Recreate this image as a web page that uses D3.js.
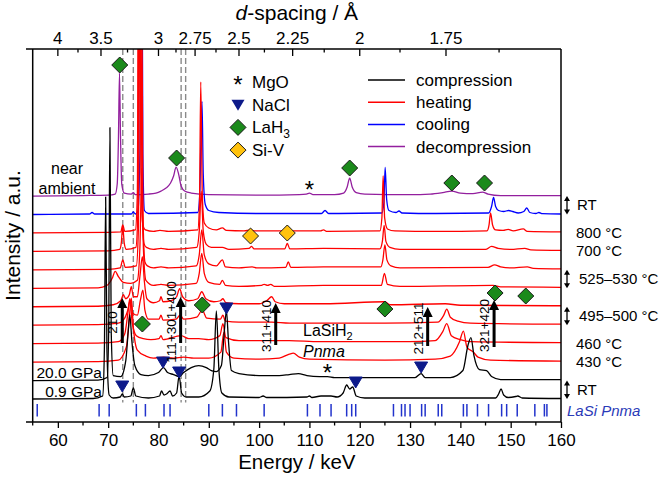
<!DOCTYPE html>
<html><head><meta charset="utf-8">
<script src="https://cdn.jsdelivr.net/npm/d3@7"></script>
<style>body{margin:0;background:#fff} text{font-family:"Liberation Sans",Arial,sans-serif}</style>
</head><body><svg id="c" width="661" height="477"></svg>
<script>
// ---------- data ----------
const energyTicks=[60,70,80,90,100,110,120,130,140,150,160];
const energyMinor=[55,65,75,85,95,105,115,125,135,145,155];
const dTicks=[4,3.5,3,2.75,2.5,2.25,2,1.75];
const dMinor=[3.75,3.25,2.875,2.625,2.375,2.125,1.875,1.625];
const eTimesD=240.0; // keV·Å
const offsetStep=18.45;
const dashedE=[72.9,75.0,84.5,85.4];
const lasiTicks=[55.9,68.2,70.2,75.6,77.4,81.1,82.3,90.0,92.7,95.5,101.0,109.6,112.1,114.3,117.4,118.4,119.2,126.7,128.3,129.0,130.0,132.3,133.0,135.6,136.3,140.6,141.3,143.4,145.6,148.2,149.2,151.3,154.8,156.7,157.2];

const decompression=[[55,0],[65,0.5],[70,1],[71.4,2],[71.8,12],[72.05,60],[72.25,123],[72.45,60],[72.7,12],[73.2,3],[74.6,2],[75,3.5],[75.4,1.5],[78,2],[79.5,3],[80.5,5],[81.5,8],[82.4,13],[83,20],[83.5,29],[84,22],[84.5,10],[85.2,5],[86.5,3],[90,1.5],[100,1],[108,1.5],[109.4,2],[110,3],[110.7,1.5],[115,1.5],[116.8,3],[117.5,9],[118,18],[118.5,9],[119.3,3.5],[121,2],[130,1.5],[134,2],[136.5,3.5],[138.3,5],[140,3],[142.5,2.5],[144.4,4],[145.5,2],[148,0.5],[160,0.5]];
const cooling=[[55,0],[66.3,0.5],[66.8,2],[67.3,0.5],[74.6,0.5],[75,2.5],[75.4,0.5],[75.9,3],[76.3,60],[76.6,420],[76.9,60],[77.2,4],[78,1],[87.8,2],[88.2,20],[88.45,80],[88.65,113],[88.9,40],[89.3,10],[90,4],[92,2],[100,1],[112.4,1],[113.1,4],[113.8,1],[124.4,1.5],[124.8,12],[125.05,47],[125.35,15],[125.8,4],[127.2,2],[127.8,3.5],[128.4,1.5],[135,1],[145.6,1.5],[146.2,8],[146.6,17],[147,8],[147.6,4],[148.6,3],[149.6,4],[150.4,3],[151.5,1.5],[152.6,3],[153.2,6.5],[153.8,2],[155,1],[155.6,2],[156.3,0.8],[160,0.5]];
const heat800=[[55,0],[70,0.5],[72.5,1],[72.9,8],[73.3,1.5],[75.4,3],[75.8,40],[76.1,500],[76.5,60],[76.9,8],[77.4,3],[79,1.5],[80.3,2.5],[82,1.5],[87.8,3],[88.15,30],[88.4,151],[88.7,40],[89.1,10],[90,5],[91.5,3],[92.7,5],[93.5,2.5],[97,2],[98.3,3],[99,2],[105,2],[105.6,4],[106.2,2],[112.2,2],[112.8,3],[113.5,1.5],[124,2],[124.4,15],[124.65,57],[124.95,15],[125.5,4],[127,2],[135,1.5],[145.3,2],[145.7,8],[146,20],[146.4,8],[147,3],[148.5,2.5],[149.5,3.5],[150.5,2],[152.5,4],[153.3,1.5],[160,1]];
const heat700=[[55,0],[70,0.5],[72.3,2],[72.6,8],[72.9,25],[73.2,8],[73.6,2],[75.5,4],[75.9,40],[76.3,500],[76.7,60],[77.1,8],[77.6,4],[79,2],[80.5,3],[82,2],[87.6,4],[88.1,20],[88.5,60],[88.9,20],[89.5,7],[90.5,4],[92.7,4],[94,2],[98,3],[98.5,5],[99,2.5],[105.1,2.5],[105.6,8],[106.1,2.5],[112.8,3],[124,2.5],[124.5,10],[124.85,26],[125.2,10],[126,4],[128,2],[145,2],[146.2,5],[147.5,3],[150,2],[152.8,3],[154,1.5],[160,1]];
const heat530=[[55,0],[70,0.5],[72.4,2],[72.9,10],[73.4,2.5],[75.6,4],[76.0,40],[76.5,500],[76.9,60],[77.3,8],[77.8,4],[79,2],[80.5,3],[82,2],[87.5,4],[88.1,15],[88.6,40],[89.1,15],[90,6],[91.5,4],[92.7,10],[93.3,3],[96,2],[98.6,3],[99.5,2],[105.3,2.5],[105.8,8],[106.3,2.5],[112.8,3],[124.2,3],[124.6,10],[125,25],[125.4,10],[126.2,4],[128,2],[145.5,2.5],[146.8,5],[148,3],[150,2],[153.3,3],[154.5,1.5],[160,1]];
const heat525=[[55,0],[68,0.5],[69.8,3],[70.8,10],[71.4,17],[72,12],[73,6],[74.5,5],[75.8,8],[76.3,40],[76.7,120],[77.0,40],[77.5,8],[79,3],[80.5,4],[82,3],[87.5,5],[88.1,15],[88.6,35],[89.1,15],[90,6],[92.2,4],[92.7,8],[93.3,3],[96,2],[100.5,3],[101,4],[101.7,3],[102.3,4],[103,2],[112.8,3],[124.3,3],[124.9,15],[125.5,4],[128,2],[146.5,3],[148,1.5],[160,1]];
const heat500=[[55,0],[68,0.5],[71,2],[72.5,6],[73,12],[73.5,8],[74.2,12],[74.6,20],[75,10],[75.8,10],[76.3,30],[76.8,50],[77.2,25],[77.7,8],[79,4],[80.2,6],[80.5,10],[80.9,5],[82.5,6],[83.6,10],[84.2,18],[84.8,10],[86,6],[87.8,8],[88.6,15],[89.4,8],[91,5],[92.3,6],[92.8,8],[93.4,4],[96,3],[100,3],[101.5,6],[102.5,10],[103.2,5],[105,3],[113,3],[125,5],[126,2],[137,3],[140,1.5],[160,1]];
const heat495=[[55,0],[68,0.5],[72,2],[73,5],[73.9,15],[74.4,25],[74.9,12],[75.8,10],[76.4,25],[76.9,35],[77.3,15],[78,6],[80.1,6],[80.5,10],[80.9,5],[83.5,6],[84.3,10],[85,6],[87.6,8],[88.7,15],[89.6,7],[92.3,6],[92.8,10],[93.3,4],[96,3],[102.5,3],[106,2],[112,2],[125,2],[135.5,3],[136.7,10],[137.3,16],[138,8],[139.5,4],[142,2],[160,1]];
const heat460=[[55,0],[68,0.5],[72,2],[73.3,10],[73.9,30],[74.3,45],[74.8,20],[75.6,8],[77,5],[78.5,4],[80.1,5],[80.5,8],[80.9,4],[84.5,8],[86,5],[88,5],[90,4],[92.2,8],[92.8,20],[93.4,6],[96,3],[106,3],[112,2],[130,2],[135,3],[136.5,12],[137.3,20],[138.2,8],[140,4],[142,2],[160,1]];
const heat430=[[55,0],[68,0.5],[72,2],[73.6,15],[74.3,50],[74.6,64],[75,35],[75.8,12],[77.5,6],[79,4],[81,5],[83,4],[85,5],[87,4],[90,4],[92.4,10],[93,30],[93.5,10],[95,4],[100,3],[104,4],[106,8],[106.8,9],[108,5],[110,3],[125,2],[135,3],[138,6],[139.8,20],[140.6,31],[141.3,15],[142.6,10],[143.5,5],[146,2],[160,1]];
const comp20=[[55,0],[68,0.5],[69.8,3],[70.1,50],[70.35,253],[70.6,50],[71,5],[72.5,4],[73.5,20],[74.0,50],[74.3,66],[74.7,40],[75.3,15],[76.5,6],[78,5],[80,8],[81,13],[81.8,8],[83,6],[84.1,4],[85,8],[86.5,13],[88,15],[89.5,13],[90.5,10],[91.5,9],[92.5,15],[93.1,50],[93.5,70],[93.9,40],[94.5,10],[96,7],[100,5],[104,5],[106,6],[107.8,7],[109.5,5],[112,4],[113.6,4],[115,3],[120,3],[125,3],[131,3],[132.2,7],[133,3],[138,3],[140.5,10],[141.5,35],[142.1,43],[142.7,25],[143.8,11],[145.2,10],[146.2,4],[148,1],[160,1]];
const comp09=[[55,0],[67,0.5],[68.9,3],[69.25,50],[69.5,202],[69.75,50],[70.2,4],[71,1],[72.4,2],[72.8,5],[73.2,2],[74.5,3],[75,11],[75.5,3],[78,1],[80.2,3],[80.6,8],[81.1,4],[81.6,5],[82.3,8],[82.8,3],[83.6,6],[84.1,23],[84.6,6],[85.5,2],[88,2],[90.2,8],[91,30],[91.5,88],[92,30],[92.6,6],[94,2],[100,1.5],[100.8,3],[101.5,1.5],[109.5,2],[110,3],[110.5,1.5],[112.3,3],[114.3,3],[115.5,2],[116.7,6],[117.4,14],[118,10],[118.6,12],[119.3,3],[121,1],[147,1],[147.6,5],[148.1,10],[148.6,4],[149.5,1.5],[151,2.5],[151.4,3],[152.3,1],[160,0.5]];

// traces listed top to bottom: [name, data, kind]
const traces=[
 ["decompression",decompression,"decompression"],
 ["cooling",cooling,"cooling"],
 ["800",heat800,"heating"],["700",heat700,"heating"],["530",heat530,"heating"],["525",heat525,"heating"],
 ["500",heat500,"heating"],["495",heat495,"heating"],["460",heat460,"heating"],["430",heat430,"heating"],
 ["20.0 GPa",comp20,"compression"],["0.9 GPa",comp09,"compression"]];

// markers: [energy, intensity on stacked scale]
const mgoMarks=[[110.0,212],[113.6,29]];
const naclMarks=[[72.8,13],[80.9,37],[84.1,27],[93.5,91],[119.2,17],[132.2,32]];
const lah3Marks=[[72.3,334],[83.6,241],[118.0,231],[138.3,216],[144.8,216],[76.8,75],[88.7,94],[125.0,90],[146.9,106],[153.0,103]];
const sivMarks=[[98.3,163],[105.6,166]];
// arrows: [energy, bottom, top, label]
const hklArrows=[[72.8,56,101,"210"],[84.4,56,102,"111+301+400"],[103.3,54,96,"311+410"],[133.5,53,92,"212+511"],[146.7,52,99,"321+420"]];
const legendSymbols=["MgO","NaCl","LaH3","Si-V"];
const legendLines=["compression","heating","cooling","decompression"];
const rightLabels=[["RT",0,1,true],["800 °C",2,2,false],["700 °C",3,3,false],["525–530 °C",4,5,true],["495–500 °C",6,7,true],["460 °C",8,8,false],["430 °C",9,9,false],["RT",10,11,true]];

// ---------- drawing ----------
const colors={compression:"#000000",heating:"#ff0000",cooling:"#0000ff",decompression:"#931f9e"};
const svg=d3.select("#c");
const L=32.7,R=561,T=49,B=422;
const x=d3.scaleLinear().domain([55,160]).range([L,R]);
const y=d3.scaleLinear().domain([-23,350]).range([B,T]);
const off=i=>(traces.length-1-i)*offsetStep;

svg.append("defs").append("clipPath").attr("id","clip").append("rect").attr("x",L).attr("y",T).attr("width",R-L).attr("height",B-T);

// dashed lines
svg.append("g").selectAll("line").data(dashedE).join("line")
 .attr("x1",d=>x(d)).attr("x2",d=>x(d)).attr("y1",T).attr("y2",y(-3.5))
 .attr("stroke","#8a8a8a").attr("stroke-width",1.4).attr("stroke-dasharray","6,3");

// LaSi ticks
svg.append("g").selectAll("line").data(lasiTicks).join("line")
 .attr("x1",d=>x(d)).attr("x2",d=>x(d)).attr("y1",y(-5)).attr("y2",y(-17.5))
 .attr("stroke","#2233cc").attr("stroke-width",1.5);

// traces
const line=d3.line().x(d=>x(d[0])).curve(d3.curveMonotoneX);
const gT=svg.append("g").attr("clip-path","url(#clip)");
const drawOrder=[0,1,2,3,4,5,6,7,8,9,10,11];
drawOrder.forEach(i=>{
  const [nm,data,kind]=traces[i];
  gT.append("path").datum(data)
   .attr("d",line.y(d=>y(d[1]+off(i))))
   .attr("fill","none").attr("stroke",colors[kind]).attr("stroke-width",1.3).attr("stroke-linejoin","round");
});

// frame
svg.append("line").attr("x1",L).attr("x2",L).attr("y1",T).attr("y2",B).attr("stroke","#000").attr("stroke-width",1.5);
svg.append("line").attr("x1",R).attr("x2",R).attr("y1",T).attr("y2",B).attr("stroke","#000").attr("stroke-width",1.5);

// bottom axis
const xAxis=d3.axisBottom(x).tickValues(energyTicks).tickSize(6).tickFormat(d3.format("d"));
const gB=svg.append("g").attr("transform",`translate(0,${B})`).call(xAxis);
gB.select(".domain").remove();
gB.append("g").selectAll("line").data(energyMinor).join("line").attr("x1",d=>x(d)).attr("x2",d=>x(d)).attr("y1",0).attr("y2",3.5).attr("stroke","#000").attr("stroke-width",1.3);
gB.append("line").attr("x1",26).attr("x2",R).attr("y1",0).attr("y2",0).attr("stroke","#000").attr("stroke-width",1.5);
gB.selectAll(".tick line").attr("stroke-width",1.3);
gB.selectAll(".tick text").attr("font-size",17).attr("fill","#000").attr("y",24).attr("dy",0).attr("font-family","Liberation Sans, Arial, sans-serif");

// top axis (d-spacing)
const xd=d=>x(eTimesD/d);
const gTop=svg.append("g").attr("transform",`translate(0,${T})`);
gTop.append("line").attr("x1",26).attr("x2",R).attr("y1",0).attr("y2",0).attr("stroke","#000").attr("stroke-width",1.5);
gTop.selectAll(".maj").data(dTicks).join("line").attr("x1",xd).attr("x2",xd).attr("y1",0).attr("y2",7).attr("stroke","#000").attr("stroke-width",1.3);
gTop.selectAll(".min").data(dMinor).join("line").attr("x1",xd).attr("x2",xd).attr("y1",0).attr("y2",3.5).attr("stroke","#000").attr("stroke-width",1.3);
gTop.selectAll("text").data(dTicks).join("text").attr("x",xd).attr("y",-5).attr("text-anchor","middle").attr("font-size",17).text(d=>d);

// axis titles
const tt=svg.append("text").attr("x",(L+R)/2).attr("y",20).attr("text-anchor","middle").attr("font-size",21);
tt.append("tspan").attr("font-style","italic").text("d");
tt.append("tspan").text("-spacing / Å");
svg.append("text").attr("x",(L+R)/2).attr("y",469).attr("text-anchor","middle").attr("font-size",20.5).text("Energy / keV");
svg.append("text").attr("transform",`translate(20,${(T+B)/2}) rotate(-90)`).attr("text-anchor","middle").attr("font-size",21).text("Intensity / a.u.");

// markers
const diamond=r=>`M0,${-r}L${r},0L0,${r}L${-r},0Z`;
const tri="M-6.5,-5L6.5,-5L0,6Z";
const gM=svg.append("g");
gM.selectAll(".d").data(lah3Marks).join("path").attr("d",diamond(8)).attr("transform",d=>`translate(${x(d[0])},${y(d[1])})`).attr("fill","#1b8a1b").attr("stroke","#1a1a1a").attr("stroke-width",1);
gM.selectAll(".s").data(sivMarks).join("path").attr("d",diamond(8)).attr("transform",d=>`translate(${x(d[0])},${y(d[1])})`).attr("fill","#ffc20e").attr("stroke","#1a1a1a").attr("stroke-width",1);
gM.selectAll(".n").data(naclMarks).join("path").attr("d",tri).attr("transform",d=>`translate(${x(d[0])},${y(d[1])})`).attr("fill","#0d1a8a").attr("stroke","#0d1a8a");
gM.selectAll(".m").data(mgoMarks).join("text").attr("x",d=>x(d[0])).attr("y",d=>y(d[1])+11).attr("text-anchor","middle").attr("font-size",24).text("*");

// hkl arrows
const gA=svg.append("g");
hklArrows.forEach(([e,b,t,lab])=>{
  const xx=x(e);
  gA.append("line").attr("x1",xx).attr("x2",xx).attr("y1",y(b)).attr("y2",y(t)+8).attr("stroke","#000").attr("stroke-width",3);
  gA.append("path").attr("d",`M${xx-5},${y(t)+10}L${xx+5},${y(t)+10}L${xx},${y(t)}Z`).attr("fill","#000");
  gA.append("text").attr("transform",`translate(${xx-5},${(y(b)+y(t))/2+2}) rotate(-90)`).attr("text-anchor","middle").attr("font-size",13.5).text(lab);
});

// annotations
svg.append("text").attr("x",67).attr("y",174).attr("text-anchor","middle").attr("font-size",16).text("near");
svg.append("text").attr("x",67).attr("y",194).attr("text-anchor","middle").attr("font-size",16).text("ambient");
svg.append("text").attr("x",102).attr("y",y(off(10))-3).attr("text-anchor","end").attr("font-size",15.5).text("20.0 GPa");
svg.append("text").attr("x",102).attr("y",y(off(11))-2).attr("text-anchor","end").attr("font-size",15.5).text("0.9 GPa");
const ls=svg.append("text").attr("x",303).attr("y",336).attr("font-size",16);
ls.append("tspan").text("LaSiH");ls.append("tspan").attr("font-size",11).attr("dy",4).text("2");
svg.append("text").attr("x",303).attr("y",357).attr("font-size",16).attr("font-style","italic").text("Pnma");
svg.append("text").attr("x",567).attr("y",y(-11.5)+5).attr("font-size",15).attr("fill","#2a3ab8").attr("font-style","italic").text("LaSi Pnma");

// legend symbols
const lgS=svg.append("g");
legendSymbols.forEach((nm,i)=>{
  const cy=82+i*22.7;
  if(nm==="MgO") lgS.append("text").attr("x",238).attr("y",cy+11).attr("text-anchor","middle").attr("font-size",24).text("*");
  if(nm==="NaCl") lgS.append("path").attr("d",tri).attr("transform",`translate(238,${cy})`).attr("fill","#0d1a8a");
  if(nm==="LaH3") lgS.append("path").attr("d",diamond(8)).attr("transform",`translate(238,${cy})`).attr("fill","#1b8a1b").attr("stroke","#1a1a1a");
  if(nm==="Si-V") lgS.append("path").attr("d",diamond(8)).attr("transform",`translate(238,${cy})`).attr("fill","#ffc20e").attr("stroke","#1a1a1a");
  const t=lgS.append("text").attr("x",252).attr("y",cy+6).attr("font-size",17);
  if(nm==="LaH3"){t.append("tspan").text("LaH");t.append("tspan").attr("font-size",12).attr("dy",5).text("3");}
  else t.text(nm);
});
const lgL=svg.append("g");
legendLines.forEach((nm,i)=>{
  const cy=80+i*22.2;
  lgL.append("line").attr("x1",368).attr("x2",405).attr("y1",cy).attr("y2",cy).attr("stroke",colors[nm]).attr("stroke-width",1.5);
  lgL.append("text").attr("x",416).attr("y",cy+6).attr("font-size",17).text(nm);
});

// right labels
const gR=svg.append("g");
rightLabels.forEach(([lab,i1,i2,br])=>{
  const ya=y(off(i1)),yb=y(off(i2));
  if(br){
    const xx=567;
    gR.append("line").attr("x1",xx).attr("x2",xx).attr("y1",ya+2).attr("y2",yb-2).attr("stroke","#000").attr("stroke-width",1.3);
    gR.append("path").attr("d",`M${xx-3},${ya+5}L${xx+3},${ya+5}L${xx},${ya}Z`).attr("fill","#000");
    gR.append("path").attr("d",`M${xx-3},${yb-5}L${xx+3},${yb-5}L${xx},${yb}Z`).attr("fill","#000");
  }
  const xt= br?(lab==="RT"?577:579):576;
  gR.append("text").attr("x",xt).attr("y",(ya+yb)/2+5).attr("font-size",15).text(lab);
});
</script></body></html>
